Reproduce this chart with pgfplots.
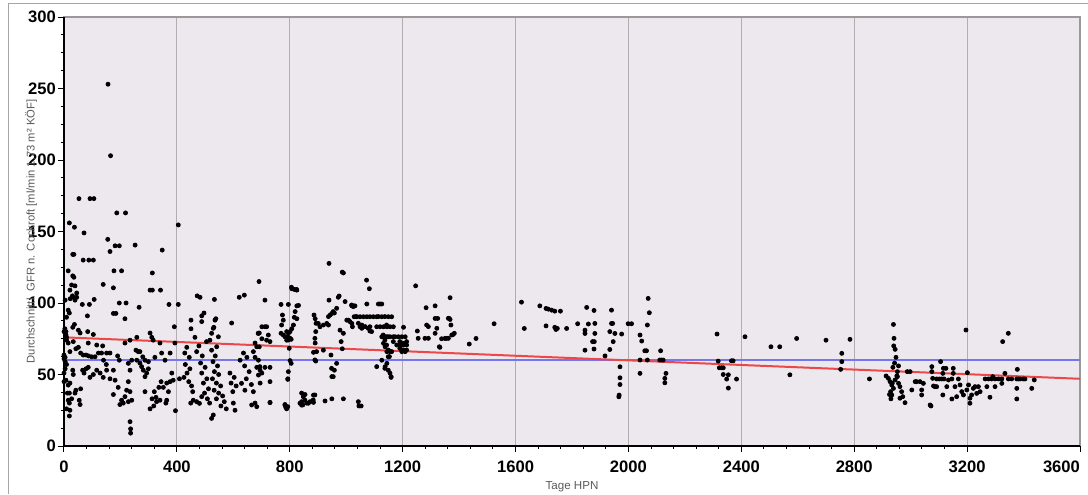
\documentclass[border=0pt]{standalone}
\usepackage{fontspec}
\setmainfont{Liberation Sans}
\usepackage{pgfplots}
\pgfplotsset{compat=1.18}
\definecolor{bgcol}{RGB}{237,231,238}
\definecolor{gridcol}{RGB}{178,172,180}
\definecolor{regred}{RGB}{236,72,72}
\definecolor{meanblue}{RGB}{118,118,240}
\definecolor{labgray}{RGB}{90,90,90}

\begin{document}
\begin{tikzpicture}
\begin{axis}[
  scale only axis,
  width=508pt, height=214.5pt,
  xmin=0, xmax=3600, ymin=0, ymax=300,
  xtick={0,400,...,3200}, ytick={0,50,...,300},
  extra x ticks={3600},
  extra x tick style={grid=none, xticklabel style={anchor=north east, xshift=3.5pt}},
  minor x tick num=4, minor y tick num=3,
  tick align=outside, xtick pos=left, ytick pos=left,
  major tick length=3pt, minor tick length=1.6pt,
  tick style={black, line width=0.5pt},
  xmajorgrids, major x grid style={gridcol, line width=0.6pt},
  axis background/.style={fill=bgcol},
  axis line style={gray!80, line width=0.7pt},
  ticklabel style={font=\fontsize{8.3}{9}\selectfont\bfseries},
  /pgf/number format/assume math mode=true,
  /pgf/number format/1000 sep={},
  xticklabel style={yshift=-1pt},
  yticklabel style={xshift=2.5pt},
  clip=false,
]
\addplot[meanblue, line width=1pt] coordinates {(0,60) (3600,60)};
\addplot[regred, line width=1pt] coordinates {(0,76) (3600,47)};
\addplot[only marks, mark=*, mark size=1.0pt, black] coordinates {
(0,80)(3,82)(7,77.6)(9,74)(0,63.6)(0,61)(4,59)(9,57)(4,62)(9,76)(7,80)(15,72)(21,66)(4,54)(0,51)(0,45)(21,44)(31,53)(33,50)(19,37)(27,33)(21,25)(19,21)(39,37)(42,39)(59,40)(54,32)(57,29)(15,42.6)(7,46)(12,37)(15,32)(19,30)(9,26)(9,90)(15,95)(4,102)(21,109)(27,112.6)(35,118)(33,104)(39,102)(45,104)(31,83)(19,93)(37,85)(15,122.5)(31,119)(31,134)(35,134)(19,156)(37,153)(53,173)(42,68)(51,69)(33,73)(51,81)(57,79)(59,65)(39,112)(45,107)(30,105)(22,103)
(68,130)(88,130)(104,130)(71,149)(92,173)(106,173)(66,53)(71,51)(78,54)(86,55)(92,48)(104,50)(68,63.6)(78,63.6)(87,63)(98,62.4)(110,62.4)(122,65)(133,65)(151,65)(163,65)(137,70)(116,70.6)(86,72)(83,91)(107,102.5)(84,80)(104,78)(65,99)(90,99)
(116,53)(128,51)(139,48)(151,53)(163,47)(175,53)(181,46)(192,41)(139,113)(155,144.5)(156,253)(165,203)(163,136)(181,140)(196,140)(187,163)(218,163)(177,122.5)(204,122.5)(175,110.6)(175,92.7)(184,92.7)(216,89)(196,100)(220,100)(266,97)(252,140.5)(313,121)(305,109)(313,109)(342,109)(348,137)(372,99)(405,99)(391,83.4)(305,79)(311,76)
(175,36)(204,32)(198,29)(216,34.5)(210,30)(222,39)(234,38)(240,32)(228,31)(234,17)(236,12)(236,9)(234,53)(228,45)
(258,60)(263,66)(269,58)(275,55.5)(281,53)(287,48.5)(293,51)(299,54)(287,38)(305,26)(318,28)(312,33)(326,34)(320,38)(336,41)(344,45)(352,41)(364,44)(370,38)(376,45)(382,51)(387,46)(364,32)(361,30)(340,32)(328,31)
(196,60)(228,57.8)(255,67)(269,66)(279,62.4)(287,60)(299,59)(322,62)(346,65)(358,60)(376,65)(393,72)(258,76)(234,74)(216,72)(316,74)(340,72)(140,60)(150,57)(190,63)(240,60)
(405,154.6)(409,47)(395,24.7)(435,69)(428,65)(444,62)(430,57)(446,54)(436,51)(425,48)(442,45)(452,42)(456,38)(449,30)(458,32)
(464,76)(478,70)(470,66)(490,63)(484,58)(500,55)(488,51)(506,47)(494,44)(512,40)(498,37)(508,33)(516,30)(470,31)(480,29.8)(488,34.5)
(505,73)(517,74)(523,78.8)(529,82.3)(535,88)(541,69.4)(547,76.4)
(523,67)(536,63)(528,59)(544,56)(533,52)(548,50)(526,47)(540,44)(555,42)(532,39)(548,37)(562,35)(540,33)(568,31)(556,28)(575,26)(523,19.3)(529,21.7)
(588,51)(603,48)(592,44)(610,42)(598,38)(600,30)(606,25)
(624,60)(636,65)(648,62)(640,56)(656,52)(646,47)(664,43)(671,66)(677,72)(683,69.4)(671,38)(677,30)(683,27.5)(688,78.8)(692,69.4)(694,55.5)(629,43.8)(641,39)
(450,88)(450,82)(488,91)(496,93)(488,87)(538,89)(531,83)(594,86)(692,79)(472,105)(482,104)(533,102.5)(621,104)(639,105.5)(691,115)(665,28.7)(730,30.3)
(712,102)(769,99)(795,99)(807,110)(816,109.5)(825,109)(825,98)(831,98.3)(819,94)(816,90)(825,89)(774,91.6)(777,88)(771,84.6)(769,78.8)(777,77.6)(789,80)(795,78.8)(801,80)(807,82)(813,84.6)(783,76.4)(795,76)(801,75)(789,74)(805,74.6)
(701,83.4)(712,83.4)(718,83.4)(689,78.8)(701,75)(724,77.6)(730,73)(718,74)
(677,62)(689,60)(683,55)(695,53)(689,49.6)(701,51)(695,44)(712,55)(730,55)(730,45)(795,52)(793,47)(805,57.8)(795,74.1)(801,75.3)(798,68.3)(793,46.6)(801,59.7)
(730,30.5)(783,29)(786,27)(789,26)(793,27.5)(783,28.7)
(842,37)(848,34.5)(842,31)(842,28.6)(854,32)(860,30)(872,31)(884,30.5)(884,35.6)(854,36)(836,29.9)(846,28.7)(866,29.9)(889,35.7)(883,32.2)(925,31.5)(949,33)(990,33)(1043,31)(1045,28)(1053,28)
(886,91.6)(890,89)(901,85.7)(907,83.4)(892,80)(890,72)(884,65.5)(892,59.4)(919,67)(946,63.6)(949,48.5)(958,53)(889,75.3)(895,66)(889,60.2)(948,54.3)(954,48.5)(966,57.8)
(939,127.7)(986,121.6)(990,121)(972,104)(996,101)(939,102)(943,91.6)(949,92.7)(958,93)(931,85.7)(937,84.6)(978,81)(990,78.8)(982,73)(986,68)(893,85.8)(919,84.6)(937,90.5)(954,94)(966,96.3)(975,104.9)(806,111)(824,109.5)(1072,116)(1082,110)
(1002,88)(1008,88)(1020,85.7)(1022,83.4)(1020,98)(1026,98)(1031,98)(1028,90.4)(1037,90.4)(1049,90.4)(1061,90.4)(1073,90.4)(1084,90.4)(1096,90.4)(1108,90.4)(1126,90.4)(1149,90.4)(1161,90.4)
(1049,83.4)(1055,82.3)(1084,83.4)(1084,80.4)(1108,83.4)(1120,83.4)(1132,83.4)(1144,83.4)(1155,83.4)(1167,83.4)
(1073,99.3)(1114,99.3)(1120,99.3)(1126,99.3)
(1126,76.4)(1132,76.4)(1138,76.4)(1144,76.4)(1149,76.4)(1155,76.4)(1167,76.4)
(1132,71.8)(1138,69.4)(1144,66)(1155,66)(1161,66)(1149,62.4)(1144,57.8)(1138,55.5)(1149,53)(1155,51)(1159,48)(1108,55.5)
(1173,76.4)(1185,76.4)(1197,76.4)(1209,76.4)(1179,70.6)(1191,70.6)(1203,70.6)(1214,70.6)(1197,66)(1209,66)(1203,83)(1126,60)
(1013,87)(1019,98.6)(1025,97.5)(1035,90.5)(1043,85.8)(1055,84.6)(1067,83.5)(1078,82.3)(1090,80)(1114,90.5)(1137,90.5)(1143,84.6)(1131,77.6)(1137,74.1)(1143,70.6)(1149,67.1)(1153,62.5)(1159,48.5)(1137,54.3)
(1167,73)(1190,73)(1202,71.8)(1214,73)(1190,68.3)(1202,67.1)(1214,67.1)
(1246,112)(1252,80.4)(1255,75.3)
(1283,96.7)(1315,98)(1368,103.7)(1279,75.3)(1291,75.3)(1285,84.6)(1315,78.8)(1321,82.3)(1324,89.2)(1315,89.2)(1330,69.4)(1368,88.5)(1371,84.6)(1374,77.6)(1383,78.8)(1356,75.3)(1338,75)(1291,83.5)(1362,89.3)(1362,75.3)
(1365,89.2)(1379,78)(1350,75.2)(1332,69)
(1436,71.3)(1460,75.2)(1524,85.5)(1621,100.6)(1631,82.2)(1686,98)(1708,96.2)(1716,95.7)(1728,95)(1739,94.3)(1759,94.3)(1708,84)(1739,83)(1748,82.2)(1743,81.5)(1781,82.2)
(1820,85.5)(1852,96.9)(1846,81)(1846,78.7)(1858,85.3)(1878,94.8)(1881,85.7)(1881,78.7)(1873,73)(1879,73)(1846,67)(1878,67.8)(1917,63)
(1940,95)(1940,85.7)(1944,85.7)(1934,80)(1952,78.7)(1976,78.3)(1934,67.5)(1946,73)
(1970,55.4)(1970,47.7)(1970,43)(1967,35.6)(1966,34.4)
(1999,85.5)(2011,85.5)(2041,77.6)(2047,73.4)(2058,66.6)(2064,66.6)(2067,84.6)(2070,103.2)(2074,93.2)(2041,60.1)(2067,60.1)(2041,50.8)
(2111,60.1)(2117,60.1)(2123,60.1)(2114,66.6)(2133,50.8)(2129,47.3)(2129,44.2)
(2314,78.3)(2318,59.4)(2322,54.7)(2330,54.7)(2336,54.7)(2336,50)(2348,46.8)(2354,49.8)(2354,40.5)(2365,59.6)(2371,59.6)(2383,46.8)
(2413,76.4)(2505,69.4)(2536,69.4)(2572,49.8)(2596,75.2)(2700,74)
(2785,74.6)(2756,64.8)(2756,59)(2752,53.6)(2854,46.9)(2939,85)(2941,75.3)(2945,67.6)(2948,62)(2957,56)(2953,52)(2951,49)
(2913,49)(2921,47.3)(2927,45)(2933,42.7)(2939,40.3)(2929,38)(2933,35.7)(2945,46.2)(2957,43.8)(2962,41.5)(2968,38)(2972,34.5)(2980,30.3)(2962,33.4)(2953,48.5)
(2937,55)(2943,58)(2940,70)(2935,44)(2925,36)(2930,33)
(2988,52)(2998,52)(3004,39.2)(3016,45)(3021,45)(3033,45)(3039,39.2)(3045,43.8)(3039,35.7)(3069,28.7)(3072,28)(3075,55.5)(3075,52)(3078,47.3)(3081,42)(3086,41.5)(3092,41.5)(3106,59)(3116,54.3)(3125,54.3)(3114,50.8)(3118,46.9)(3092,46.9)(3102,46.9)(3110,46.9)
(3114,35.7)(3128,41.5)(3134,46.2)(3146,46.9)(3151,54.3)(3151,50.8)(3146,32.9)(3157,41.5)(3163,34.5)(3169,46.9)(3175,42.7)(3181,38)(3187,35.7)(3199,39.2)(3205,42.7)(3210,33.4)(3216,35.7)(3222,40.3)(3228,41.5)(3234,36.8)(3240,41.5)(3246,38)(3210,29.9)(3196,81.1)(3201,51.3)
(3264,46.9)(3276,46.9)(3287,46.9)(3299,46.9)(3311,46.9)(3323,46.9)(3281,34.1)(3270,41.5)(3299,41.5)(3323,43.8)(3334,50.8)(3346,46.9)(3358,46.9)(3376,46.9)(3382,46.9)(3388,46.9)(3399,46.9)(3405,46.9)(3376,40.3)(3376,32.9)(3378,53.6)(3326,73)(3346,78.8)(3429,40.3)(3438,46.2)(3291,48.5)
};
\draw[black, line width=0.7pt] (rel axis cs:0,1) -- (rel axis cs:0,0) -- (rel axis cs:1,0);
\end{axis}
\node[rotate=90, text=labgray, font=\fontsize{5.6}{6}\selectfont]
  at ([xshift=-16.5pt]current axis.west)
  {Durchschnittl. GFR n. Cockroft [ml/min 1,73 m² KÖF]};
\node[text=labgray, font=\fontsize{5.8}{6}\selectfont]
  at ([yshift=-20.5pt]current axis.south) {Tage HPN};
\draw[gray!70, line width=0.8pt]
  ([shift={(-27.75pt,-24pt)}]current axis.south west)
  -- ([shift={(-27.75pt,221.25pt)}]current axis.south west)
  -- ([shift={(512pt,221.25pt)}]current axis.south west);
\pgfresetboundingbox
\path ([shift={(-32pt,-24pt)}]current axis.south west)
  rectangle ([shift={(512pt,223pt)}]current axis.south west);
\end{tikzpicture}
\end{document}
